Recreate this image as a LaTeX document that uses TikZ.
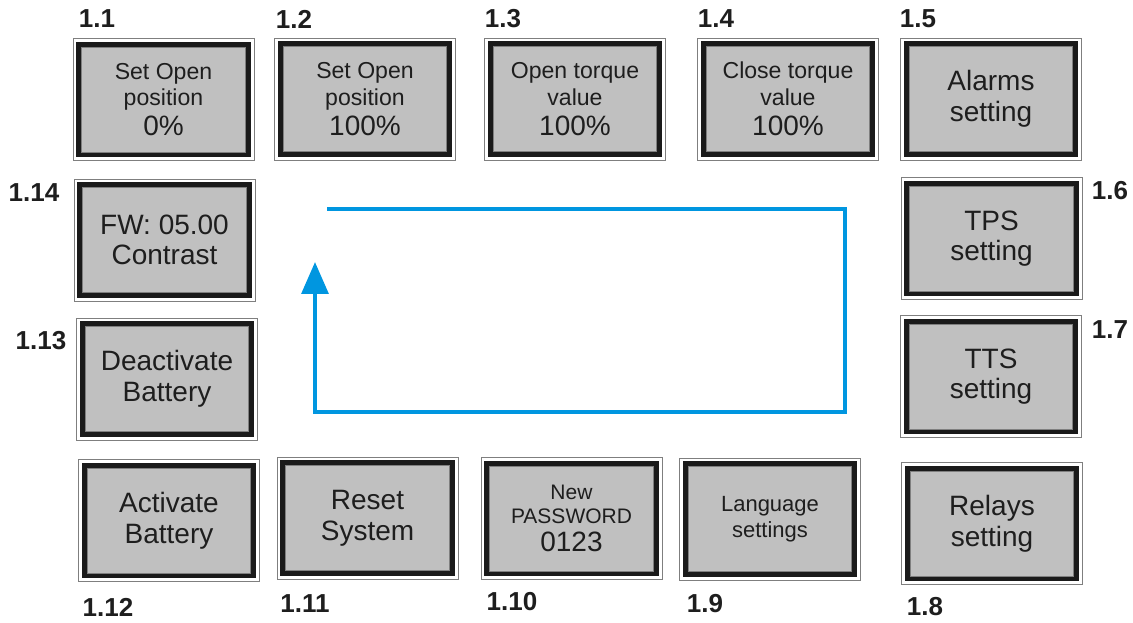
\documentclass[tikz,border=0pt]{standalone}
\usepackage{fontspec}
\setmainfont{Liberation Sans}
\usetikzlibrary{arrows.meta}
\definecolor{boxgray}{HTML}{C0C0C0}
\definecolor{framegray}{HTML}{7F7F7F}
\definecolor{frameblack}{HTML}{1A1A1A}
\definecolor{loopblue}{HTML}{0096E0}
\definecolor{txt}{HTML}{1E1E1E}
\tikzset{
  panel/.style={rectangle, draw=framegray, line width=0.5pt, fill=white,
    minimum width=135.5pt, minimum height=91.5pt, inner sep=0pt, align=center,
    text=txt,
    path picture={
      \draw[frameblack, line width=3.75pt, fill=boxgray]
        ([shift={(4.2pt,4.2pt)}]path picture bounding box.south west) rectangle
        ([shift={(-4.2pt,-4.2pt)}]path picture bounding box.north east);
      \draw[framegray, line width=0.5pt]
        ([shift={(6.4pt,6.4pt)}]path picture bounding box.south west) rectangle
        ([shift={(-6.4pt,-6.4pt)}]path picture bounding box.north east);
    }},
  big/.style={font=\fontsize{21pt}{23pt}\selectfont},
  mid/.style={font=\fontsize{17.3pt}{20pt}\selectfont},
  tag/.style={font=\bfseries\fontsize{19.5pt}{22pt}\selectfont, text=txt, inner sep=0pt},
  loop/.style={loopblue, line width=3.2pt},
}
\newcommand{\pct}[1]{{\fontsize{21pt}{22pt}\selectfont #1}}
\begin{document}
\begin{tikzpicture}[x=0.75pt, y=-0.75pt]
\useasboundingbox (0,0) rectangle (1133,623);
% top row
\node[panel, mid] (b1) at (163.5,99.5) {Set Open\\position\\[2.5pt]\pct{0\%}};
\node[panel, mid] (b2) at (365,99) {Set Open\\position\\[2.5pt]\pct{100\%}};
\node[panel, mid] (b3) at (575,99) {Open torque\\value\\[2.5pt]\pct{100\%}};
\node[panel, mid] (b4) at (788,99) {Close torque\\value\\[2.5pt]\pct{100\%}};
\node[panel, big] (b5) at (991,99) {Alarms\\setting};
% sides
\node[panel, big] (b14) at (164.5,240) {FW: 05.00\\Contrast};
\node[panel, big] (b6) at (991.5,238.5) {TPS\\setting};
\node[panel, big] (b13) at (167,379) {Deactivate\\Battery};
\node[panel, big] (b7) at (991,376.5) {TTS\\setting};
% bottom row
\node[panel, big] (b12) at (169,520.5) {Activate\\Battery};
\node[panel, big] (b11) at (367.5,518) {Reset\\System};
\node[panel, font=\fontsize{15.75pt}{18pt}\selectfont] (b10) at (571.5,518.5) {New\\PASSWORD\\[3.5pt]\pct{0123}};
\node[panel, font=\fontsize{16.5pt}{19.5pt}\selectfont] (b9) at (770,519) {Language\\settings};
\node[panel, big] (b8) at (992,523.5) {Relays\\setting};
% tags
\node[tag] (t1) at (97,19) {1.1};
\node[tag] (t2) at (294,19) {1.2};
\node[tag] (t3) at (503,19) {1.3};
\node[tag] (t4) at (716,19) {1.4};
\node[tag] (t5) at (918,19) {1.5};
\node[tag] (t14) at (34,193) {1.14};
\node[tag] (t6) at (1110,191) {1.6};
\node[tag] (t13) at (41,341) {1.13};
\node[tag] (t7) at (1110,330) {1.7};
\node[tag] (t12) at (108,607) {1.12};
\node[tag] (t11) at (305,604) {1.11};
\node[tag] (t10) at (512,602) {1.10};
\node[tag] (t9) at (705,604) {1.9};
\node[tag] (t8) at (925,607) {1.8};
% blue loop
\coordinate (ls) at (327,209);
\coordinate (lc1) at (845,209);
\coordinate (lc2) at (845,412);
\coordinate (lc3) at (315,412);
\coordinate (le) at (315,262);
\draw[loop, -{Triangle[width=20pt, length=24pt]}, line join=miter]
  (ls) -- (lc1) -- (lc2) -- (lc3) -- (le);
\end{tikzpicture}
\end{document}
